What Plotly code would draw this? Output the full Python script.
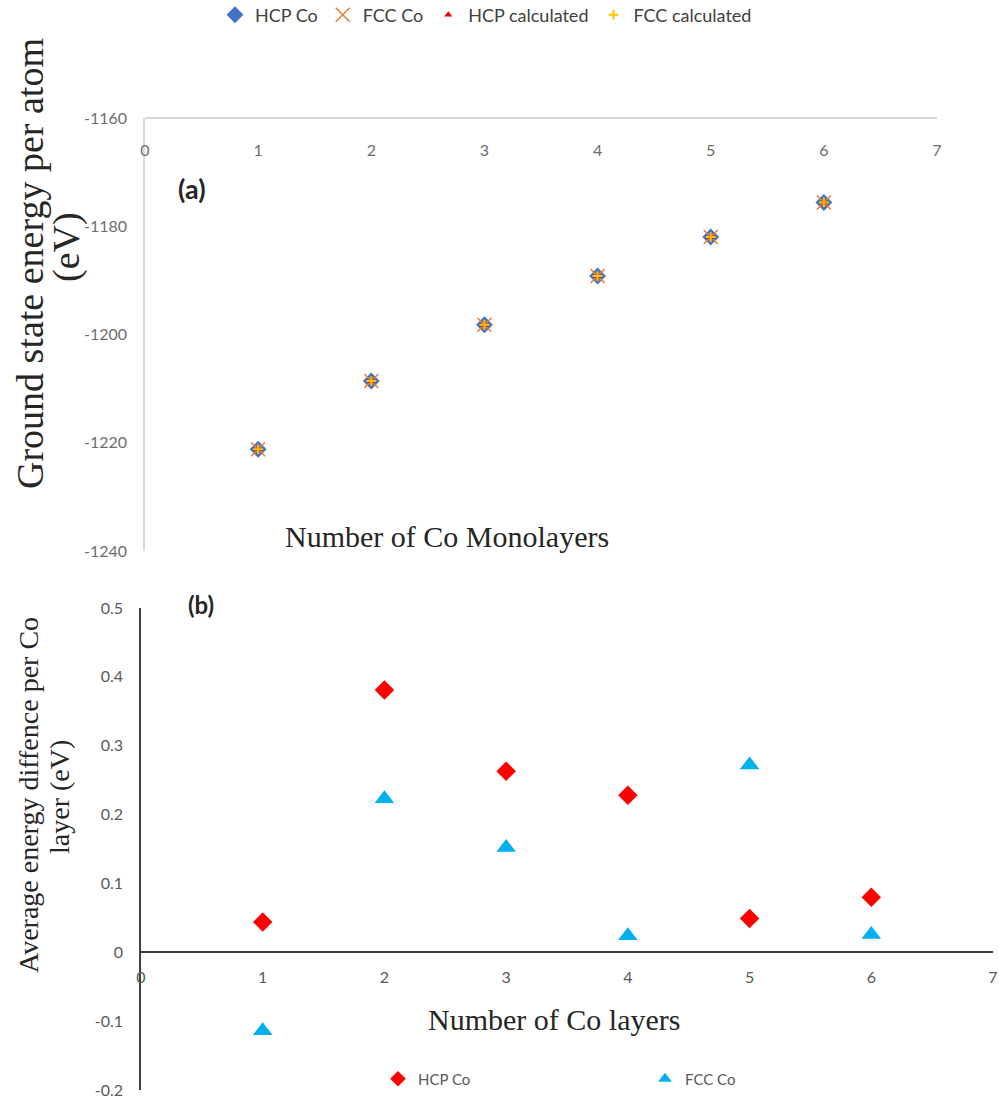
import plotly.graph_objects as go

# ---------------- data ----------------
layers = [1, 2, 3, 4, 5, 6]

# panel (a): ground state energy per atom (eV)
hcp_energy = [-1221.2, -1208.6, -1198.2, -1189.2, -1182.0, -1175.6]
fcc_energy = [-1221.2, -1208.6, -1198.2, -1189.2, -1182.0, -1175.6]
hcp_calc = [-1221.2, -1208.6, -1198.2, -1189.2, -1182.0, -1175.6]
fcc_calc = [-1221.2, -1208.6, -1198.2, -1189.2, -1182.0, -1175.6]

# panel (b): average energy difference per Co layer (eV)
hcp_diff = [0.044, 0.381, 0.263, 0.228, 0.049, 0.080]
fcc_diff = [-0.114, 0.223, 0.152, 0.024, 0.272, 0.026]

x_ticks = [0, 1, 2, 3, 4, 5, 6, 7]
x_ticktext = ["0", "1", "2", "3", "4", "5", "6", "7"]
ya_ticks = [-1240, -1220, -1200, -1180, -1160]
ya_ticktext = ["-1240", "-1220", "-1200", "-1180", "-1160"]
yb_ticks = [-0.2, -0.1, 0, 0.1, 0.2, 0.3, 0.4, 0.5]
yb_ticktext = ["-0.2", "-0.1", "0", "0.1", "0.2", "0.3", "0.4", "0.5"]

W, H = 999, 1102


def px(x):
    return x / W


def py(y):
    return 1 - y / H


fig = go.Figure()

# panel (a)
fig.add_trace(go.Scatter(x=layers, y=hcp_energy, mode="markers", name="HCP Co",
                         marker=dict(symbol="diamond", size=13, color="#4472C4"),
                         xaxis="x", yaxis="y", legend="legend"))
fig.add_trace(go.Scatter(x=layers, y=fcc_energy, mode="markers", name="FCC Co",
                         marker=dict(symbol="x-thin-open", size=14, color="#ED7D31",
                                     line=dict(color="#ED7D31", width=1.5)),
                         xaxis="x", yaxis="y", legend="legend"))
fig.add_trace(go.Scatter(x=layers, y=hcp_calc, mode="markers", name="HCP calculated",
                         marker=dict(symbol="triangle-up", size=7, color="#E60000"),
                         xaxis="x", yaxis="y", legend="legend"))
fig.add_trace(go.Scatter(x=layers, y=fcc_calc, mode="markers", name="FCC calculated",
                         marker=dict(symbol="cross-thin-open", size=7, color="#FFC000",
                                     line=dict(color="#FFC000", width=2)),
                         xaxis="x", yaxis="y", legend="legend"))

# panel (b)
fig.add_trace(go.Scatter(x=layers, y=hcp_diff, mode="markers", name="HCP Co",
                         marker=dict(symbol="diamond", size=15, color="#FF0000"),
                         xaxis="x2", yaxis="y2", legend="legend2"))
fig.add_trace(go.Scatter(x=layers, y=fcc_diff, mode="markers", name="FCC Co",
                         marker=dict(symbol="triangle-up", size=17, color="#00B0F0"),
                         xaxis="x2", yaxis="y2", legend="legend2"))

tick_font_a = dict(family="Lato", size=16, color="#6e6e6e")
tick_font_b = dict(family="Lato", size=16, color="#595959")
clear = "rgba(0,0,0,0)"

fig.update_layout(
    width=W, height=H,
    margin=dict(l=0, r=0, t=0, b=0, autoexpand=False),
    paper_bgcolor="white", plot_bgcolor="white",
    showlegend=True,
    xaxis=dict(domain=[px(145), px(937)], range=[0, 7], anchor="free", position=py(118),
               showline=True, linecolor="#d9d9d9", linewidth=1.5, showgrid=False, zeroline=False,
               ticks="outside", ticklen=18, tickcolor=clear,
               tickvals=x_ticks, ticktext=x_ticktext, tickfont=tick_font_a),
    yaxis=dict(domain=[py(551), py(118)], range=[-1240, -1160], anchor="x",
               showline=True, linecolor="#d9d9d9", linewidth=1.5, showgrid=False, zeroline=False,
               ticks="outside", ticklen=13, tickcolor=clear,
               tickvals=ya_ticks, ticktext=ya_ticktext, tickfont=tick_font_a),
    xaxis2=dict(domain=[px(141), px(993)], range=[0, 7], anchor="free", position=py(952),
                showline=True, linecolor="#404040", linewidth=1.5, showgrid=False, zeroline=False,
                ticks="outside", ticklen=11, tickcolor=clear,
                tickvals=x_ticks, ticktext=x_ticktext, tickfont=tick_font_b),
    yaxis2=dict(domain=[py(1090), py(608)], range=[-0.2, 0.5], anchor="x2",
                showline=True, linecolor="#404040", linewidth=1.5, showgrid=False, zeroline=False,
                ticks="outside", ticklen=13, tickcolor=clear,
                tickvals=yb_ticks, ticktext=yb_ticktext, tickfont=tick_font_b),
    legend=dict(orientation="h", x=px(215), xanchor="left", y=py(15), yanchor="middle",
                font=dict(family="Lato", size=18, color="#404040"), bgcolor=clear),
    legend2=dict(orientation="h", x=px(378), xanchor="left", y=py(1079), yanchor="middle",
                 entrywidth=222, entrywidthmode="pixels", itemsizing="constant",
                 font=dict(family="Lato", size=15, color="#595959"), bgcolor=clear),
)

serif = "Liberation Serif"
annos = [
    dict(text="Ground state energy per atom", x=px(30), y=py(264), size=38, family=serif, angle=-90),
    dict(text="(eV)", x=px(66), y=py(247), size=38, family=serif, angle=-90),
    dict(text="Average energy diffence per Co", x=px(28), y=py(795), size=28, family=serif, angle=-90),
    dict(text="layer (eV)", x=px(59), y=py(797), size=28, family=serif, angle=-90),
    dict(text="Number of Co Monolayers", x=px(447), y=py(536), size=30, family=serif, angle=0),
    dict(text="Number of Co layers", x=px(554), y=py(1019), size=30, family=serif, angle=0),
    dict(text="<b>(a)</b>", x=px(192), y=py(189), size=27, family="Lato", angle=0),
    dict(text="<b>(b)</b>", x=px(201), y=py(604), size=24, family="Lato", angle=0),
]
for a in annos:
    fig.add_annotation(text=a["text"], xref="paper", yref="paper", x=a["x"], y=a["y"],
                       xanchor="center", yanchor="middle", showarrow=False, textangle=a["angle"],
                       font=dict(family=a["family"], size=a["size"], color="#262626"))

fig.write_html("out.html")
